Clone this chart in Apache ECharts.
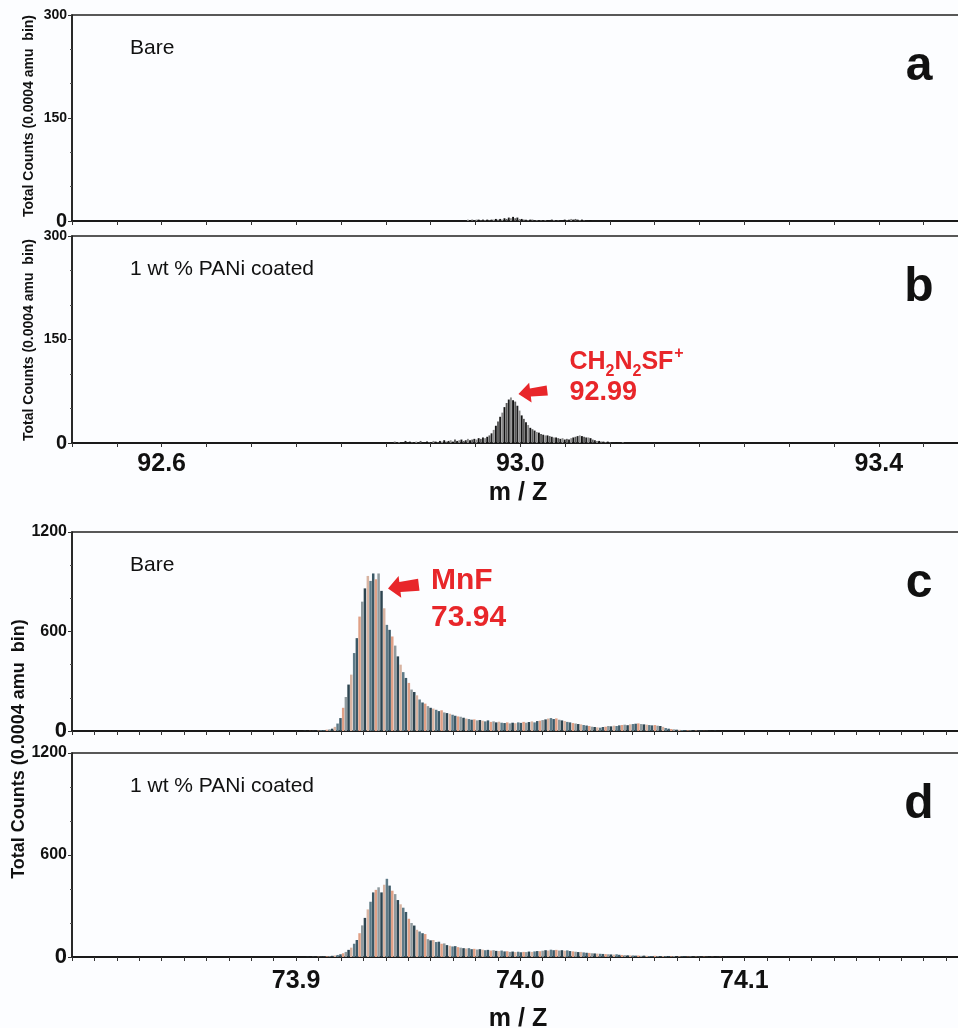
<!DOCTYPE html>
<html>
<head>
<meta charset="utf-8">
<title>m/Z spectra</title>
<script src="https://cdn.jsdelivr.net/npm/echarts@6/dist/echarts.min.js"></script>
<style>
  html, body { margin: 0; padding: 0; background: #fcfdff; }
  #main { width: 958px; height: 1028px; }
</style>
</head>
<body>
<div id="main"></div>
<script>
// histogram bins, 92.5 - 93.5 window (panels a, b)
var binStartAB = 92.848;
var binStepAB = 0.0024;
var countsA = [
  0,0,0,0,0,0,0,0,0,0, 0,0,0,0,0,0,0,0,0,0, 0,0,0,0,0,0,0,0,0,0, 0,0,0,0,0,0,0,0,
  1,2,1,2,1,2,2,1,2,1, 2,1,2,2,3,2,3,2,4,3, 5,4,6,4,5,3,3,2,2,1,
  2,2,1,1,0,1,0,1,1,0, 2,1,0,1,1,0,2,1,2,3, 2,3,2,1,2,1,1,0,1
];
var countsB = [
  0,0,1,0,0,2,0,1,0,0, 3,0,2,1,0,2,0,3,1,0, 2,1,0,3,2,
  1,3,2,4,2,3,4,2,5,3, 4,5,3,4,6,4,5,6,5,7, 6,8,7,9,11,
  14,19,25,31,38,44,52,58,63,66,
  62,60,54,47,40,35,30,26,22,20,
  18,16,15,13,12,11,11,10,9,8,
  8,7,6,7,5,6,5,7,8,9,
  10,11,10,9,8,8,7,5,4,3,
  3,2,2,1,2,1,1,0,1,0,0,1,0
];

// histogram bins, 73.8 - 74.2 window (panels c, d)
var binStartCD = 73.8978;
var binStepCD = 0.00122;
var countsC = [
  0,0,0,0,0,1,0,1,1,2,
  3,5,6,8,10,14,25,45,78,140,
  205,280,340,470,560,690,780,860,935,905,
  950,915,950,845,740,640,610,570,515,450,
  400,355,320,290,250,235,215,190,172,165,
  150,140,135,128,120,125,112,108,104,98,
  92,88,86,80,75,72,68,70,64,66,
  62,58,64,55,58,52,56,50,48,52,
  46,50,47,52,49,55,50,54,58,52,
  60,62,66,70,75,78,72,76,68,64,
  60,55,52,48,45,42,40,36,33,30,
  26,24,22,20,24,26,30,28,32,30,
  34,36,38,35,40,42,44,46,42,40,
  38,36,34,36,32,30,25,18,14,12,
  10,8,7,6,5,4,4,3,3,2,
  2,1,1,1,0,1,0,0,0
];
var countsD = [
  0,0,0,0,0,0,1,0,1,1,
  2,2,3,4,5,7,9,12,16,22,
  30,42,55,78,100,140,186,230,280,325,
  380,395,410,380,425,460,420,390,370,335,
  310,290,265,225,200,185,160,150,140,135,
  105,98,100,88,90,78,80,70,66,62,
  64,58,55,52,50,52,46,48,44,46,
  43,40,42,38,40,36,35,38,33,34,
  30,32,29,31,28,30,29,32,30,33,
  35,34,37,40,38,43,40,42,38,40,
  37,39,35,33,31,29,30,27,25,24,
  22,21,20,19,18,17,16,15,14,16,
  13,12,11,10,10,9,8,9,7,8,
  7,6,6,7,5,6,5,5,4,4,
  5,3,4,3,3,2,3,2,2,2,
  1,2,1,1,1,0,1,1,0,1,0,0,0,0,0,0
];

var tickLabelsAB = ['92.6', '93.0', '93.4'];
var tickLabelsCD = ['73.9', '74.0', '74.1'];
var panelNames = ['Bare', '1 wt % PANi coated', 'Bare', '1 wt % PANi coated'];
var panelLetters = ['a', 'b', 'c', 'd'];
var yAxisTitle = 'Total Counts (0.0004 amu  bin)';
var xAxisTitle = 'm / Z';

var darkPalette = ['#111111', '#5a5a5a', '#1e1e1e', '#8a8a8a'];
var tonePalette = ['#3b5866', '#e0a086', '#8f9a9e', '#2c4450', '#d8b4a2', '#5f7b88'];

function toBars(start, step, counts) {
  return counts.map(function (c, i) { return [+(start + i * step).toFixed(4), c]; });
}

var sans = '"Liberation Sans", Arial, sans-serif';

function xAxisCfg(gi, min, max, interval, labels, showLabels, name, margin, gap) {
  return {
    type: 'value', gridIndex: gi, min: min, max: max, interval: interval,
    axisLine: { onZero: false, lineStyle: { color: '#1a1a1a', width: 2 } },
    axisTick: { show: true, length: 4, lineStyle: { color: '#333' } },
    splitLine: { show: false },
    axisLabel: {
      show: showLabels, margin: margin, color: '#111',
      fontFamily: sans, fontWeight: 'bold', fontSize: 25,
      formatter: function (v) {
        var s = v.toFixed(1);
        return (labels.indexOf(s) >= 0 && Math.abs(v - parseFloat(s)) < 1e-6) ? s : '';
      }
    },
    name: name, nameLocation: 'middle', nameGap: gap,
    nameTextStyle: { fontFamily: sans, fontWeight: 'bold', fontSize: 25, color: '#111' }
  };
}

function yAxisCfg(gi, max, interval, fs) {
  return {
    type: 'value', gridIndex: gi, min: 0, max: max, interval: interval,
    axisLine: { show: true, lineStyle: { color: '#1a1a1a', width: 1.5 } },
    axisTick: { show: true, length: 4, lineStyle: { color: '#333' } },
    minorTick: { show: true, splitNumber: 3, length: 2, lineStyle: { color: '#555' } },
    splitLine: { show: false },
    axisLabel: {
      margin: 5, color: '#111', fontFamily: sans, fontWeight: 'bold', fontSize: fs,
      formatter: function (v) { return v === 0 ? '{z|0}' : String(v); },
      rich: { z: { fontFamily: sans, fontWeight: 'bold', fontSize: fs + 6, color: '#111' } }
    }
  };
}

function barSeries(idx, data, palette, width) {
  return {
    type: 'bar', xAxisIndex: idx, yAxisIndex: idx, data: data,
    barWidth: width, silent: true, animation: false,
    itemStyle: { color: function (p) { return palette[p.dataIndex % palette.length]; } }
  };
}

var chart = echarts.init(document.getElementById('main'));

// plot areas run past the right edge of the page, as in the original figure
var grids = [
  { left: 72, top: 15, width: 892, height: 206 },
  { left: 72, top: 236, width: 892, height: 207 },
  { left: 72, top: 532, width: 892, height: 199 },
  { left: 72, top: 753, width: 892, height: 204 }
].map(function (g) {
  g.show = true; g.borderColor = '#222'; g.borderWidth = 1.5; g.backgroundColor = 'transparent';
  g.outerBoundsMode = 'none'; g.containLabel = false;
  return g;
});

var option = {
  backgroundColor: '#fcfdff',
  animation: false,
  grid: grids,
  xAxis: [
    xAxisCfg(0, 92.5, 93.495, 0.05, tickLabelsAB, false, '', 9, 38),
    xAxisCfg(1, 92.5, 93.495, 0.05, tickLabelsAB, true, xAxisTitle, 9, 38),
    xAxisCfg(2, 73.8, 74.198, 0.01, tickLabelsCD, false, '', 12, 50),
    xAxisCfg(3, 73.8, 74.198, 0.01, tickLabelsCD, true, xAxisTitle, 12, 50)
  ],
  yAxis: [
    yAxisCfg(0, 300, 150, 14),
    yAxisCfg(1, 300, 150, 14),
    yAxisCfg(2, 1200, 600, 16),
    yAxisCfg(3, 1200, 600, 16)
  ],
  series: [
    barSeries(0, toBars(binStartAB, binStepAB, countsA), darkPalette, 1.9),
    barSeries(1, toBars(binStartAB, binStepAB, countsB), darkPalette, 1.9),
    barSeries(2, toBars(binStartCD, binStepCD, countsC), tonePalette, 2.5),
    barSeries(3, toBars(binStartCD, binStepCD, countsD), tonePalette, 2.5)
  ]
};
chart.setOption(option);

// panel texts, axis titles and red annotations
var red = '#e8262a';
var graphics = [];
[15, 236, 532, 753].forEach(function (top, k) {
  graphics.push({ type: 'text', x: 130, y: top + 33, style: {
    text: panelNames[k], fontFamily: sans, fontSize: 21, fill: '#111',
    align: 'left', verticalAlign: 'middle' } });
  graphics.push({ type: 'text', x: 919, y: top + 52, style: {
    text: panelLetters[k], fontFamily: sans, fontWeight: 'bold', fontSize: 48, fill: '#111',
    align: 'center', verticalAlign: 'middle' } });
});
[[29, 116, 14], [29, 340, 14], [19, 749, 18]].forEach(function (t) {
  graphics.push({ type: 'text', x: t[0], y: t[1], rotation: Math.PI / 2, style: {
    text: yAxisTitle, fontFamily: sans, fontWeight: 'bold', fontSize: t[2], fill: '#111',
    align: 'center', verticalAlign: 'middle' } });
});

function arrow(tip, len, half, shaft) {
  return { type: 'polygon', x: tip[0], y: tip[1], rotation: 0.12, shape: { points: [
    [0, 0], [12, -half], [12, -shaft], [len, -shaft - 1], [len, shaft + 1], [12, shaft], [12, half]
  ] }, style: { fill: red } };
}

var tipB = chart.convertToPixel({ gridIndex: 1 }, [92.998, 71]);
graphics.push(arrow(tipB, 29, 10, 4));
graphics.push({ type: 'text', x: tipB[0] + 51, y: tipB[1] - 31, style: {
  text: '{m|CH}{s|2}{m|N}{s|2}{m|SF}{p|+}', align: 'left', verticalAlign: 'middle',
  rich: {
    m: { fontFamily: sans, fontWeight: 'bold', fontSize: 25, fill: red, verticalAlign: 'bottom', padding: [0, 0, 5, 0] },
    s: { fontFamily: sans, fontWeight: 'bold', fontSize: 16, fill: red, verticalAlign: 'bottom' },
    p: { fontFamily: sans, fontWeight: 'bold', fontSize: 16, fill: red, verticalAlign: 'bottom', padding: [0, 0, 18, 1] }
  } } });
graphics.push({ type: 'text', x: tipB[0] + 51, y: tipB[1] - 1, style: {
  text: '92.99', fontFamily: sans, fontWeight: 'bold', fontSize: 27, fill: red,
  align: 'left', verticalAlign: 'middle' } });

var tipC = chart.convertToPixel({ gridIndex: 2 }, [73.941, 860]);
graphics.push(arrow(tipC, 31, 11, 5));
graphics.push({ type: 'text', x: tipC[0] + 43, y: tipC[1] - 8, style: {
  text: 'MnF', fontFamily: sans, fontWeight: 'bold', fontSize: 30, fill: red,
  align: 'left', verticalAlign: 'middle' } });
graphics.push({ type: 'text', x: tipC[0] + 43, y: tipC[1] + 29, style: {
  text: '73.94', fontFamily: sans, fontWeight: 'bold', fontSize: 30, fill: red,
  align: 'left', verticalAlign: 'middle' } });

chart.setOption({ graphic: graphics });
</script>
</body>
</html>
